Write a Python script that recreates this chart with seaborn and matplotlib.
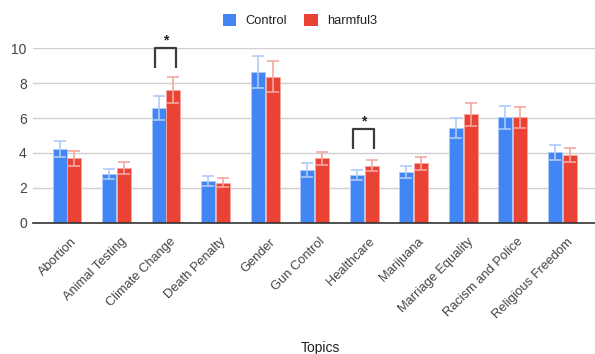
import numpy as np
import pandas as pd
import matplotlib
matplotlib.use("Agg")
import matplotlib.pyplot as plt
import matplotlib.transforms as mtransforms
from matplotlib.patches import Patch
import seaborn as sns

topics = ["Abortion", "Animal Testing", "Climate Change", "Death Penalty", "Gender",
          "Gun Control", "Healthcare", "Marijuana", "Marriage Equality",
          "Racism and Police", "Religious Freedom"]
control_mean = [4.23, 2.79, 6.56, 2.41, 8.66, 3.02, 2.73, 2.90, 5.45, 6.04, 4.04]
control_err = [0.45, 0.27, 0.68, 0.29, 0.92, 0.38, 0.29, 0.33, 0.57, 0.64, 0.43]
harmful_mean = [3.69, 3.14, 7.61, 2.29, 8.37, 3.69, 3.27, 3.40, 6.21, 6.04, 3.88]
harmful_err = [0.42, 0.32, 0.74, 0.26, 0.90, 0.38, 0.33, 0.37, 0.64, 0.62, 0.38]
groups = ["Control", "harmful3"]
colors = ["#4285F4", "#EA4335"]
err_colors = ["#AFCBFA", "#F5A8A1"]

sig_topics = ["Climate Change", "Healthcare"]
sig_top = [10.0, 5.37]
sig_leg = [8.85, 4.22]
sig_star = [10.45, 5.8]

df = pd.DataFrame({
    "Topic": topics * 2,
    "Group": [groups[0]] * len(topics) + [groups[1]] * len(topics),
    "Score": control_mean + harmful_mean,
})
errs = [control_err, harmful_err]

sns.set_theme(style="white")
plt.rcParams["font.family"] = ["Liberation Sans", "DejaVu Sans"]

fig = plt.figure(figsize=(5.95, 3.54), dpi=100)
ax = fig.add_axes([33 / 595, 1 - 222.7 / 354, 1 - 33 / 595, (222.7 - 48.3) / 354])

sns.barplot(data=df, x="Topic", y="Score", hue="Group", order=topics,
            hue_order=groups, palette=colors, width=0.6, gap=0.06,
            errorbar=None, legend=False, ax=ax, saturation=1, zorder=2)

for cont, e, ec in zip(ax.containers, errs, err_colors):
    for b in cont:
        b.set_edgecolor(ec)
        b.set_linewidth(0.6)
    xs = [b.get_x() + b.get_width() / 2 for b in cont]
    hs = [b.get_height() for b in cont]
    ax.errorbar(xs, hs, yerr=e, fmt="none", ecolor=ec, elinewidth=1.2,
                capsize=4.4, capthick=1.2, zorder=3)

ax.set_xlim(-0.686, 10.66)
ax.set_ylim(0, 10)
ax.set_yticks([0, 2, 4, 6, 8, 10])
ax.yaxis.grid(True, color="#D0D0D0", linewidth=1, zorder=0)
ax.set_axisbelow(True)
for s in ["top", "right", "left"]:
    ax.spines[s].set_visible(False)
ax.spines["bottom"].set_color("#333333")
ax.spines["bottom"].set_linewidth(1.2)
ax.spines["bottom"].set_zorder(4)
ax.tick_params(axis="both", length=0, colors="#444444")
ax.tick_params(axis="y", pad=4.5, labelsize=10)
ax.tick_params(axis="x", pad=9.5, labelsize=9.3)
shift = mtransforms.ScaledTranslation(4 / 100, 0, fig.dpi_scale_trans)
for lab in ax.get_xticklabels():
    lab.set_rotation(45)
    lab.set_ha("right")
    lab.set_va("top")
    lab.set_rotation_mode("anchor")
    lab.set_transform(lab.get_transform() + shift)
ax.set_ylabel("")
ax.set_xlabel("Topics", fontsize=10, color="#222222", labelpad=15)
ax.xaxis.label.set_x((320 - 33) / 562)

for t, top, leg, st in zip(sig_topics, sig_top, sig_leg, sig_star):
    c = topics.index(t)
    x0, x1 = c - 0.23, c + 0.2
    ax.plot([x0, x0, x1, x1], [leg, top, top, leg], color="#3C3C3C", lw=1.6,
            solid_joinstyle="round", solid_capstyle="butt", clip_on=False, zorder=5)
    ax.text((x0 + x1) / 2, st, "*", ha="center", va="center", fontsize=10,
            fontweight="bold", color="#222222", clip_on=False)

handles = [Patch(facecolor=c, edgecolor="none") for c in colors]
fig.legend(handles, groups, loc="center", bbox_to_anchor=(300 / 595, 1 - 20.7 / 354),
           ncol=2, frameon=False, fontsize=9.3, handlelength=1.05, handleheight=1.05,
           handletextpad=0.75, columnspacing=1.3, labelcolor="#222222")

fig.savefig("out.png", dpi=100)
